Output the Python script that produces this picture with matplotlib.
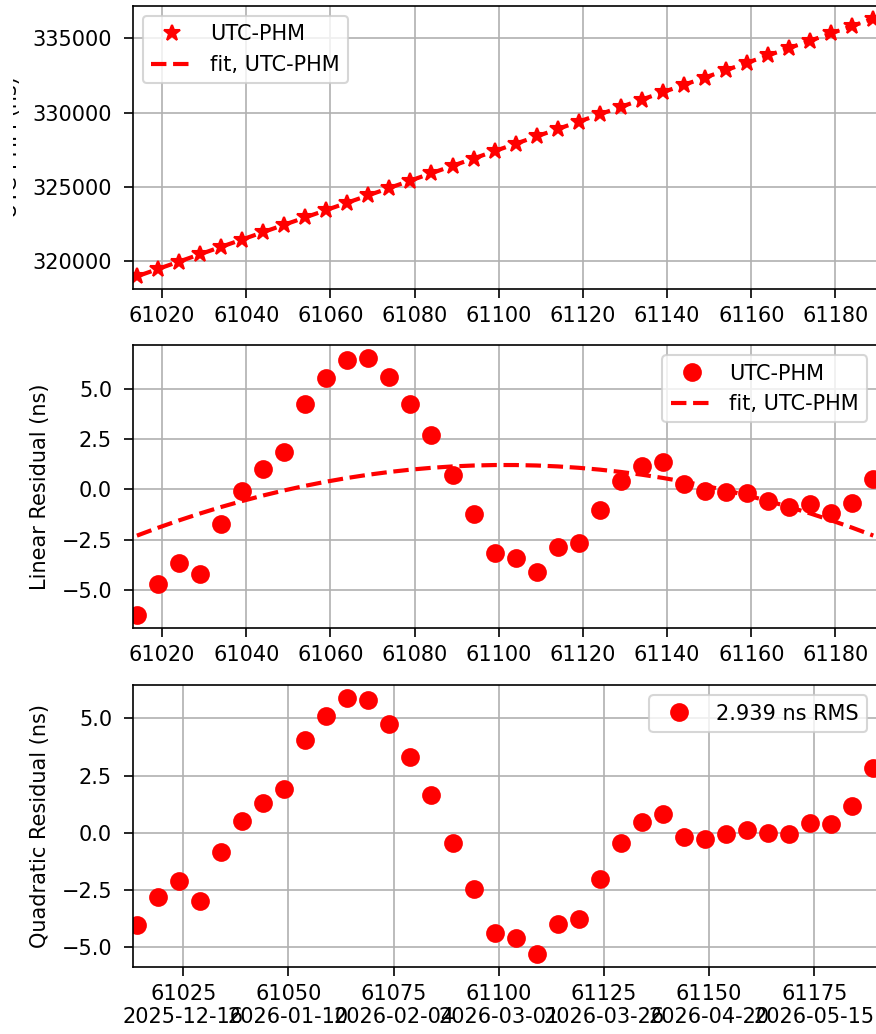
import datetime

import numpy as np
import matplotlib
matplotlib.use("Agg")
import matplotlib.pyplot as plt
from matplotlib.ticker import MultipleLocator, FuncFormatter
from matplotlib.transforms import Bbox, TransformedBbox

# MJD of each measurement
mjd = [61014, 61019, 61024, 61029, 61034, 61039, 61044, 61049, 61054, 61059,
       61064, 61069, 61074, 61079, 61084, 61089, 61094, 61099, 61104, 61109,
       61114, 61119, 61124, 61129, 61134, 61139, 61144, 61149, 61154, 61159,
       61164, 61169, 61174, 61179, 61184, 61189]

# UTC-PHM (ns)
utc_phm = [318992.7, 319488.9, 319984.5, 320478.5, 320975.6, 321471.8,
           321967.4, 322462.9, 322959.8, 323455.6, 323951.1, 324445.8,
           324939.4, 325432.7, 325925.7, 326418.3, 326910.9, 327403.6,
           327897.9, 328391.7, 328887.5, 329382.3, 329878.5, 330374.5,
           330869.9, 331364.7, 331858.1, 332352.3, 332846.8, 333341.3,
           333835.5, 334329.8, 334824.5, 335318.6, 335813.7, 336309.5]

# residual after linear fit (ns)
lin_resid = [-6.26, -4.72, -3.66, -4.19, -1.73, -0.07, 1.01, 1.87, 4.23, 5.51,
             6.44, 6.53, 5.60, 4.25, 2.72, 0.71, -1.21, -3.14, -3.41, -4.10,
             -2.86, -2.69, -1.03, 0.43, 1.18, 1.36, 0.25, -0.08, -0.15, -0.18,
             -0.60, -0.90, -0.73, -1.18, -0.70, 0.53]

# residual after quadratic fit (ns)
quad_resid = [-4.01, -2.82, -2.12, -2.98, -0.83, 0.51, 1.32, 1.93, 4.06, 5.12,
              5.90, 5.81, 4.74, 3.30, 1.64, -0.45, -2.43, -4.37, -4.61, -5.31,
              -3.98, -3.76, -2.01, -0.45, 0.48, 0.82, -0.16, -0.28, -0.06, 0.13,
              -0.01, -0.04, 0.44, 0.38, 1.18, 2.85]

rms_label = "2.939 ns RMS"
series_label = "UTC-PHM"
fit_label = "fit, UTC-PHM"

plt.rcParams["xtick.major.size"] = 4.5
plt.rcParams["ytick.major.size"] = 4.5
plt.rcParams["ytick.major.pad"] = 5.4
plt.rcParams["axes.labelpad"] = 5.5


def mjd_date_label(x, pos):
    d = datetime.datetime(1858, 11, 17) + datetime.timedelta(days=x)
    return f"{x:.0f}\n{d:%Y-%m-%d}"


def main():
    x = np.array(mjd, dtype=float)
    y = np.array(utc_phm)
    r1 = np.array(lin_resid)
    r2 = np.array(quad_resid)

    top_fit = np.polyval(np.polyfit(x, y, 2), x)
    mid_fit = np.polyval(np.polyfit(x, r1, 2), x)

    fig = plt.figure(figsize=(876 / 150, 1034 / 150), dpi=150)
    left, width = 0.1515, 0.8502
    ax1 = fig.add_axes([left, 0.7202, width, 0.2743])
    ax2 = fig.add_axes([left, 0.3924, width, 0.2740])
    ax3 = fig.add_axes([left, 0.0645, width, 0.2730])

    ax1.plot(x, y, "r*", markersize=8, label=series_label)
    ax1.plot(x, top_fit, "r--", lw=2, label=fit_label)
    ax1.set_ylabel("UTC-PHM (ns)")
    ax1.legend(loc="upper left")
    ax1.xaxis.set_major_locator(MultipleLocator(20))

    # the top label runs off the left edge of the original image
    clip = TransformedBbox(Bbox([[13 / 876, 0], [1, 1]]), fig.transFigure)
    ax1.yaxis.label.set_clip_box(clip)
    ax1.yaxis.label.set_clip_on(True)

    ax2.plot(x, r1, "ro", markersize=8, label=series_label)
    ax2.plot(x, mid_fit, "r--", lw=2, label=fit_label)
    ax2.set_ylabel("Linear Residual (ns)")
    ax2.legend(loc="upper right")
    ax2.xaxis.set_major_locator(MultipleLocator(20))

    ax3.plot(x, r2, "ro", markersize=8, label=rms_label)
    ax3.set_ylabel("Quadratic Residual (ns)")
    ax3.legend(loc="upper right")
    ax3.xaxis.set_major_locator(MultipleLocator(25))
    ax3.xaxis.set_major_formatter(FuncFormatter(mjd_date_label))

    for ax in (ax1, ax2, ax3):
        ax.set_xlim(61013, 61190)
        ax.grid(True)

    fig.savefig("out.png", dpi=150)
    plt.close(fig)


if __name__ == "__main__":
    main()
